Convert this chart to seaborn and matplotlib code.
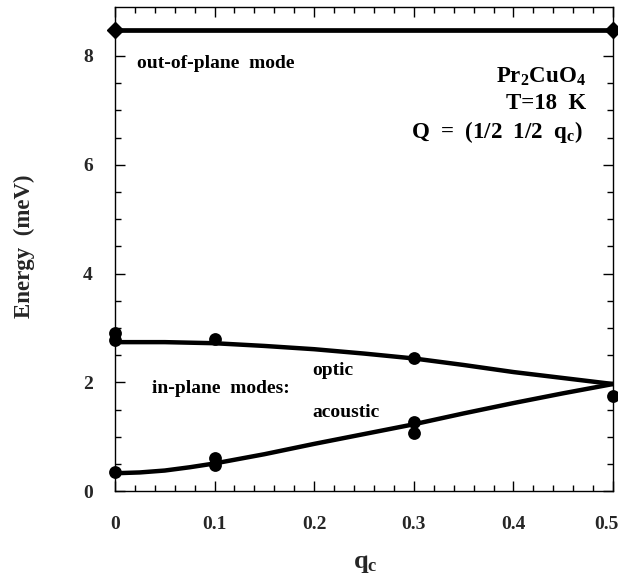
import matplotlib
matplotlib.use("Agg")
import matplotlib.pyplot as plt
from matplotlib.ticker import MultipleLocator, FixedLocator
import matplotlib.transforms as mtransforms
import seaborn as sns
import pandas as pd

# ---- data ----
optic_q = [0.0, 0.0, 0.1, 0.3, 0.5]
optic_E = [2.90, 2.78, 2.79, 2.44, 1.75]
acoustic_q = [0.0, 0.1, 0.1, 0.3, 0.3]
acoustic_E = [0.35, 0.61, 0.48, 1.27, 1.07]

curve_q = [0.0, 0.025, 0.05, 0.075, 0.1, 0.15, 0.2, 0.25, 0.3, 0.35, 0.4, 0.45, 0.5]
optic_curve = [2.74, 2.74, 2.74, 2.73, 2.72, 2.67, 2.61, 2.53, 2.44, 2.32, 2.19, 2.08, 1.97]
acoustic_curve = [0.33, 0.345, 0.38, 0.44, 0.51, 0.68, 0.87, 1.05, 1.23, 1.43, 1.62, 1.80, 1.97]

oop_q = [0.0, 0.5]
oop_E = [8.47, 8.47]

x_ticks = [0, 0.1, 0.2, 0.3, 0.4, 0.5]
x_ticklabels = ["0", "0.1", "0.2", "0.3", "0.4", "0.5"]
y_ticks = [0, 2, 4, 6, 8]
y_ticklabels = ["0", "2", "4", "6", "8"]

sns.set_theme(style="ticks")
plt.rcParams["font.family"] = ["Liberation Serif", "DejaVu Serif"]
plt.rcParams["mathtext.fontset"] = "custom"
plt.rcParams["mathtext.rm"] = "Liberation Serif:bold"
plt.rcParams["mathtext.it"] = "Liberation Serif:bold"
plt.rcParams["mathtext.bf"] = "Liberation Serif:bold"

fig = plt.figure(figsize=(6.18, 5.82), dpi=100)
ax = fig.add_axes([0.186, 0.156, 0.806, 0.832])

curves = pd.DataFrame({"q": curve_q, "optic": optic_curve, "acoustic": acoustic_curve})
sns.lineplot(data=curves, x="q", y="optic", ax=ax, color="black", lw=3.2)
sns.lineplot(data=curves, x="q", y="acoustic", ax=ax, color="black", lw=3.2)

ax.plot(oop_q, oop_E, color="black", lw=3.4, marker="D", markersize=8, clip_on=False, zorder=5)

pts = pd.DataFrame({"q": optic_q + acoustic_q, "E": optic_E + acoustic_E})
sns.scatterplot(data=pts, x="q", y="E", ax=ax, color="black", s=85,
                edgecolor="black", linewidth=0, zorder=6)
for c in ax.collections:
    c.set_clip_on(False)

ax.set_xlim(0, 0.5)
ax.set_ylim(0, 8.9)
ax.xaxis.set_major_locator(FixedLocator(x_ticks))
ax.set_xticklabels(x_ticklabels)
ax.xaxis.set_minor_locator(MultipleLocator(0.02))
ax.yaxis.set_major_locator(FixedLocator(y_ticks))
ax.set_yticklabels(y_ticklabels)
ax.yaxis.set_minor_locator(MultipleLocator(0.5))

ax.tick_params(which="both", direction="in", top=True, right=True, color="black")
ax.tick_params(which="major", length=7, width=1)
ax.tick_params(which="minor", length=4, width=1)
ax.tick_params(axis="x", which="major", pad=18, labelsize=14)
ax.tick_params(axis="y", which="major", pad=16, labelsize=14)
for lab in ax.get_xticklabels() + ax.get_yticklabels():
    lab.set_fontweight("bold")
# last x label sits slightly left of its tick in the reference
last = ax.get_xticklabels()[-1]
last.set_transform(last.get_transform() + mtransforms.ScaledTranslation(-7 / 100, 0, fig.dpi_scale_trans))
for sp in ax.spines.values():
    sp.set_linewidth(1.0)
    sp.set_color("black")

ax.set_xlabel(r"q$_\mathregular{c}$", fontsize=19, fontweight="bold")
ax.xaxis.set_label_coords(0.502, -0.125)
ax.set_ylabel("Energy  (meV)", fontsize=16.5, fontweight="bold")
ax.yaxis.set_label_coords(-0.161, 0.505)

tkw = dict(fontweight="bold", color="black")
ax.text(0.022, 7.86, "out-of-plane  mode", fontsize=14, ha="left", va="center", **tkw)
ax.text(0.473, 7.62, r"Pr$_\mathregular{2}$CuO$_\mathregular{4}$", fontsize=16.5, ha="right", va="center", **tkw)
ax.text(0.473, 7.13, "T=18  K", fontsize=16.5, ha="right", va="center", **tkw)
ax.text(0.470, 6.6, r"Q  =  (1/2  1/2  q$_\mathregular{c}$)", fontsize=16.5, ha="right", va="center", **tkw)
ax.text(0.198, 2.22, "optic", fontsize=14, ha="left", va="center", **tkw)
ax.text(0.037, 1.89, "in-plane  modes:", fontsize=14, ha="left", va="center", **tkw)
ax.text(0.198, 1.45, "acoustic", fontsize=14, ha="left", va="center", **tkw)

fig.savefig("out.png", dpi=100)
